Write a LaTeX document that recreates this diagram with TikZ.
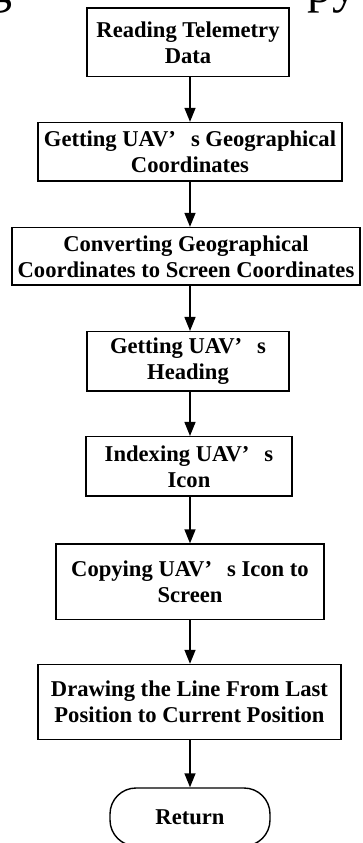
\documentclass[tikz,border=0pt]{standalone}
\usepackage{fontspec}
\setmainfont{Liberation Serif}
\usetikzlibrary{arrows.meta}
\newcommand{\uavap}{\makebox[1em][l]{’}}
\begin{document}
\begin{tikzpicture}[x=1pt,y=-1pt,
  stepbox/.style={draw, line width=1.4pt, inner sep=0pt, align=center,
    font=\fontsize{22.6}{26}\selectfont\bfseries},
  endbox/.style={draw, line width=1.4pt, inner sep=0pt, rounded corners=26pt,
    font=\fontsize{22.6}{26}\selectfont\bfseries},
  flow/.style={draw, line width=1.4pt, -{Triangle[length=14pt,width=11pt]}},
  frag/.style={inner sep=0pt, font=\fontsize{50}{50}\selectfont}]
\useasboundingbox (0,0) rectangle (362,843);
\clip (0,0) rectangle (362,843);

\node[frag, anchor=base east] (fragL) at (13,3) {g};
\node[frag, anchor=base west] (fragR) at (307,3) {py};

\node[stepbox, minimum width=202pt, minimum height=68.5pt] (b1) at (188,42.3)
  {Reading Telemetry\\Data};
\node[stepbox, minimum width=304pt, minimum height=58.5pt] (b2) at (190,151.8)
  {Getting UAV\uavap s Geographical\\Coordinates};
\node[stepbox, minimum width=348pt, minimum height=57.5pt] (b3) at (186,256.3)
  {Converting Geographical\\Coordinates to Screen Coordinates};
\node[stepbox, minimum width=202pt, minimum height=59.3pt] (b4) at (188,361.3)
  {Getting UAV\uavap s\\Heading};
\node[stepbox, minimum width=206pt, minimum height=59.3pt] (b5) at (189,466.3)
  {Indexing UAV\uavap s\\Icon};
\node[stepbox, minimum width=268pt, minimum height=75.3pt] (b6) at (190,581.7)
  {Copying UAV\uavap s Icon to\\Screen};
\node[stepbox, minimum width=303pt, minimum height=75pt] (b7) at (189.5,702)
  {Drawing the Line From Last\\Position to Current Position};
\node[endbox, minimum width=160pt, minimum height=58pt] (ret) at (190,817)
  {Return};

\coordinate (ax) at (190,0);
\draw[flow] (b1.south -| ax) -- (b2.north -| ax);
\draw[flow] (b2.south -| ax) -- (b3.north -| ax);
\draw[flow] (b3.south -| ax) -- (b4.north -| ax);
\draw[flow] (b4.south -| ax) -- (b5.north -| ax);
\draw[flow] (b5.south -| ax) -- (b6.north -| ax);
\draw[flow] (b6.south -| ax) -- (b7.north -| ax);
\draw[flow] (b7.south -| ax) -- (ret.north -| ax);
\end{tikzpicture}
\end{document}
